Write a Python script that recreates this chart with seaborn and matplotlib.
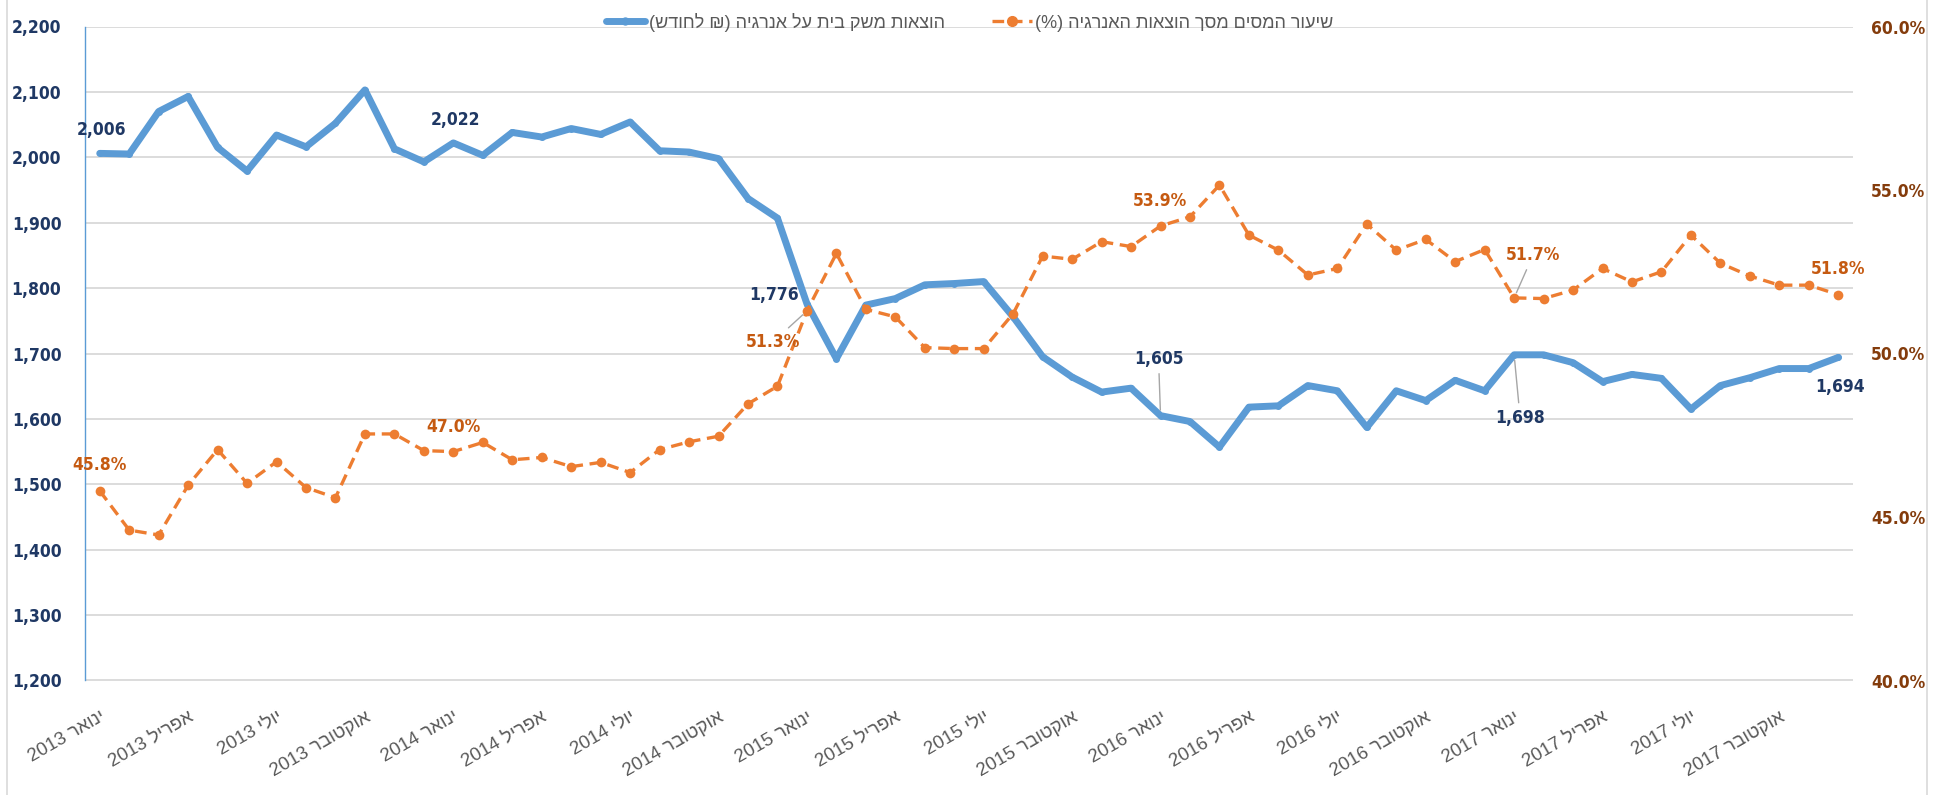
import re
import pandas as pd
import matplotlib
matplotlib.use("Agg")
import matplotlib.pyplot as plt
import matplotlib.font_manager as fm
import seaborn as sns
from matplotlib.lines import Line2D

# ================== data ==================
years = [2013, 2014, 2015, 2016, 2017]
tick_months = ["ינואר", "אפריל", "יולי", "אוקטובר"]

# household energy spend (NIS per month), Jan 2013 - Dec 2017
spend = [2006, 2005, 2070, 2093, 2015, 1979, 2034, 2016, 2052, 2103, 2013, 1993,
         2022, 2003, 2038, 2031, 2044, 2035, 2054, 2010, 2008, 1998, 1937, 1907,
         1776, 1692, 1774, 1784, 1805, 1807, 1810, 1756, 1695, 1664, 1641, 1647,
         1605, 1596, 1557, 1618, 1620, 1651, 1643, 1587, 1643, 1628, 1659, 1643,
         1698, 1698, 1686, 1657, 1668, 1662, 1615, 1651, 1663, 1677, 1677, 1694]

# tax share of energy spend (%)
tax_rate = [45.8, 44.6, 44.45, 45.97, 47.06, 46.03, 46.69, 45.9, 45.59, 47.54, 47.54, 47.03,
            47.0, 47.28, 46.75, 46.82, 46.54, 46.67, 46.36, 47.06, 47.3, 47.47, 48.46, 49.0,
            51.3, 53.06, 51.35, 51.12, 50.18, 50.15, 50.15, 51.22, 52.98, 52.88, 53.42, 53.27,
            53.9, 54.18, 55.15, 53.62, 53.16, 52.4, 52.6, 53.96, 53.16, 53.49, 52.81, 53.18,
            51.7, 51.68, 51.94, 52.6, 52.19, 52.5, 53.62, 52.76, 52.37, 52.09, 52.09, 51.8]

spend_name = "הוצאות משק בית על אנרגיה (₪ לחודש)"
tax_name = "שיעור המסים מסך הוצאות האנרגיה (%)"

# labelled points: index -> (dx, dy) offset in pixels, leader line?
spend_labels = {0: (2, 23, False), 12: (2, 23, False), 24: (-33, 9, False),
                36: (-2, 57, True), 48: (6, -63, True), 59: (2, -30, False)}
tax_labels = {0: (0, 26, False), 12: (0, 25, False), 24: (-34, -31, True),
              36: (-1, 25, False), 48: (19, 43, True), 59: (0, 26, False)}


def rtl(s):
    # matplotlib has no bidi, so put hebrew into visual order
    s = s[::-1].translate(str.maketrans("()", ")("))
    return re.sub(r"[0-9A-Za-z.,%]+", lambda m: m.group(0)[::-1], s)


df = pd.DataFrame({"idx": range(len(spend)), "spend": spend, "tax": tax_rate})
tick_pos = list(range(0, len(spend), 3))
tick_lab = [rtl(f"{m} {y}") for y in years for m in tick_months]

# ================== plot ==================
sns.set_style("white")
plt.rcParams["font.family"] = ["Liberation Sans", "DejaVu Sans"]

# narrow bold face for the numbers, if there is one
fonts = fm.fontManager.ttflist
names = {f.name for f in fonts}
num_kw = dict(family=["Liberation Sans", "DejaVu Sans"], fontsize=12.5)
if "Liberation Sans Narrow" in names:
    num_kw = dict(family=["Liberation Sans Narrow"], fontsize=14)
elif any(f.name == "DejaVu Sans" and f.stretch == "condensed" and f.weight in (700, "bold") for f in fonts):
    num_kw = dict(family=["DejaVu Sans"], stretch="condensed", fontsize=12.5)

BLUE = "#5B9BD5"
ORANGE = "#ED7D31"
NAVY = "#1F3864"
BROWN = "#843C0C"
ORANGE_TXT = "#C55A11"

fig = plt.figure(figsize=(19.39, 7.95), dpi=100)
ax = fig.add_axes([85 / 1939, 1 - 680.5 / 795, 1768 / 1939, (680.5 - 26.5) / 795])
ax2 = ax.twinx()

sns.lineplot(data=df, x="idx", y="spend", ax=ax, color=BLUE, lw=5,
             marker="o", markersize=5, markeredgewidth=0,
             solid_capstyle="round", solid_joinstyle="round")
sns.lineplot(data=df, x="idx", y="tax", ax=ax2, color=ORANGE, lw=2.4,
             ls=(0, (3.5, 2)), marker="o", markersize=7, markeredgewidth=0)

ax.set_xlim(-0.5, len(spend) - 0.5)
ax.set_ylim(1200, 2200)
ax.set_yticks(range(1200, 2201, 100))
ax.set_yticklabels([f"{v:,}" for v in range(1200, 2201, 100)],
                   weight="bold", color=NAVY, **num_kw)
ax2.set_ylim(40, 60)
ax2.set_yticks([40, 45, 50, 55, 60])
ax2.set_yticklabels([f"{v:.1f}%" for v in [40, 45, 50, 55, 60]],
                    weight="bold", color=BROWN, **num_kw)

ax.set_xticks(tick_pos)
ax.set_xticklabels(tick_lab, rotation=30, ha="right", va="top",
                   rotation_mode="anchor", color="#595959", fontsize=13.5)
ax.set_xlabel("")
ax.set_ylabel("")
ax2.set_ylabel("")

ax.grid(axis="y", color="#D9D9D9", lw=1.3)
ax.set_axisbelow(True)
ax.tick_params(axis="both", length=0)
ax.tick_params(axis="y", pad=17)
ax.tick_params(axis="x", pad=20)
ax2.tick_params(axis="y", length=0, pad=13)
for a in (ax, ax2):
    for sp in ("top", "right", "bottom"):
        a.spines[sp].set_visible(False)
ax2.spines["left"].set_visible(False)
ax.spines["left"].set_color(BLUE)
ax.spines["left"].set_linewidth(1.0)

# data labels
for i, (dx, dy, lead) in spend_labels.items():
    ax.annotate(f"{spend[i]:,}", (i, spend[i]), xytext=(dx, dy),
                textcoords="offset pixels", ha="center", va="center",
                weight="bold", color=NAVY, **num_kw,
                arrowprops=dict(arrowstyle="-", color="#A6A6A6", lw=1,
                                shrinkA=2, shrinkB=4) if lead else None)
for i, (dx, dy, lead) in tax_labels.items():
    ax2.annotate(f"{tax_rate[i]:.1f}%", (i, tax_rate[i]), xytext=(dx, dy),
                 textcoords="offset pixels", ha="center", va="center",
                 weight="bold", color=ORANGE_TXT, **num_kw,
                 arrowprops=dict(arrowstyle="-", color="#A6A6A6", lw=1,
                                 shrinkA=2, shrinkB=4) if lead else None)

# legend
h1 = Line2D([], [], color=BLUE, lw=5, marker="o", markersize=5, solid_capstyle="round")
h2 = Line2D([], [], color=ORANGE, lw=2.4, ls=(0, (3.5, 2)), marker="o", markersize=7)
fig.legend([h1, h2], [rtl(spend_name), rtl(tax_name)], loc="center",
           bbox_to_anchor=(0.5, 1 - 22 / 795), ncol=2, frameon=False,
           fontsize=13, labelcolor="#595959", handlelength=2.2,
           handletextpad=0.2, columnspacing=2.6)

# chart border
fig.add_artist(Line2D([7 / 1939, 7 / 1939], [0, 1], color="#D9D9D9", lw=1.2))
fig.add_artist(Line2D([1927 / 1939, 1927 / 1939], [0, 1], color="#D9D9D9", lw=1.2))

fig.savefig("out.png", dpi=100, facecolor="white")
